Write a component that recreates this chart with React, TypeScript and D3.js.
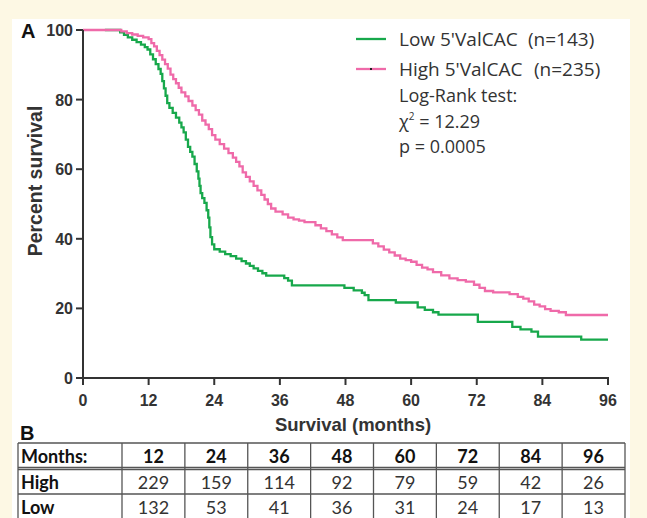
import React from "react";
import * as d3 from "d3";

// Kaplan-Meier steps: [month, percent survival]
const highSteps: [number, number][] = [
  [0, 100], [7, 99.6], [8, 99.1], [9, 98.7], [10, 98.3], [11, 97.9], [12, 97.4],
  [12.5, 96.2], [13, 95.3], [13.5, 94.0], [14, 92.8], [14.5, 91.5], [15, 90.2],
  [15.5, 88.9], [16, 87.2], [16.5, 85.9], [17, 84.7], [17.5, 83.4], [18, 82.1],
  [18.7, 80.9], [19.3, 79.6], [20, 78.3], [20.6, 77.0], [21.2, 75.7], [21.8, 74.0],
  [22.4, 72.8], [23, 71.5], [23.6, 69.8], [24.2, 68.5], [25, 67.2], [25.8, 65.9],
  [26.6, 64.6], [27.4, 63.3], [28, 62.1], [28.6, 60.8], [29.2, 59.1], [29.8, 57.8],
  [30.5, 56.5], [31.2, 55.2], [31.9, 53.9], [32.6, 52.6], [33.2, 51.3], [33.8, 50.0],
  [34.4, 48.7], [35.2, 47.8], [36.5, 47.0], [37.5, 46.1], [38.5, 45.6], [39.5, 45.2],
  [40.5, 44.8], [42.5, 43.9], [43.5, 43.0], [44.5, 42.2], [45.5, 41.3], [46.5, 40.4],
  [47.5, 39.6], [53, 38.7], [54, 37.8], [55, 36.9], [56, 36.1], [57, 35.2], [58, 34.3],
  [59, 33.9], [60, 33.4], [61, 32.5], [62, 31.7], [63, 31.2], [64, 30.4], [65.5, 29.5],
  [67, 28.6], [68.5, 28.1], [70, 27.7], [71.5, 26.8], [72.5, 25.9], [73.5, 25.0],
  [75, 24.6], [78, 24.1], [79.5, 23.3], [80.5, 22.8], [81.5, 22.0], [82.5, 21.1],
  [83.5, 20.6], [84.5, 19.8], [85.5, 19.3], [87, 18.9], [88.3, 18.1], [96, 18.1],
];

const lowSteps: [number, number][] = [
  [4, 100], [6.8, 99.3], [7.5, 98.6], [8.2, 97.9], [9, 97.2], [9.8, 96.5], [10.6, 95.8],
  [11.3, 95.1], [11.8, 94.4], [12.3, 93.0], [12.8, 91.6], [13.3, 90.2], [13.8, 88.8],
  [14.2, 87.4], [14.5, 85.3], [14.8, 83.2], [15.1, 81.1], [15.4, 79.0], [15.8, 77.6],
  [16.4, 76.2], [17.0, 74.8], [17.6, 73.4], [18.0, 72.0], [18.4, 70.6], [18.8, 68.5],
  [19.2, 66.4], [19.6, 65.0], [20.0, 63.6], [20.4, 61.5], [20.8, 59.4], [21.1, 57.3],
  [21.3, 55.2], [21.5, 53.1], [21.8, 51.7], [22.2, 50.3], [22.6, 48.2], [22.9, 46.1],
  [23.1, 43.3], [23.3, 40.5], [23.6, 38.4], [24.0, 37.0], [25, 36.3], [26, 35.6],
  [27, 35.0], [28, 34.3], [29, 33.6], [29.8, 32.9], [30.5, 32.2], [31.2, 31.5],
  [32, 30.8], [32.8, 30.1], [33.5, 29.4], [36.8, 28.7], [37.5, 28.0], [38.2, 26.6],
  [47.8, 25.9], [49.5, 25.2], [51, 24.5], [51.5, 23.8], [52.2, 22.4], [57.2, 21.7],
  [61.2, 20.3], [62.5, 19.6], [64, 18.9], [65, 18.2], [72.2, 16.1], [78.5, 14.7],
  [80, 14.0], [82, 13.3], [83.2, 11.9], [91.1, 11.0], [96, 11.0],
];

const xTicks = [0, 12, 24, 36, 48, 60, 72, 84, 96];
const yTicks = [0, 20, 40, 60, 80, 100];

const tableMonths = [12, 24, 36, 48, 60, 72, 84, 96];
const atRiskHigh = [229, 159, 114, 92, 79, 59, 42, 26];
const atRiskLow = [132, 53, 41, 36, 31, 24, 17, 13];

const GREEN = "#17a84b";
const PINK = "#ef6aa9";
const AXIS = "#333";

export default function App() {
  const width = 647;
  const height = 518;

  const x = d3.scaleLinear().domain([0, 96]).range([83, 608]);
  const y = d3.scaleLinear().domain([0, 100]).range([378, 30]);

  const line = d3
    .line<[number, number]>()
    .x((d) => x(d[0]))
    .y((d) => y(d[1]))
    .curve(d3.curveStepAfter);

  // table geometry
  const tLeft = 18;
  const tRight = 625;
  const firstCol = 122;
  const colW = (tRight - firstCol) / tableMonths.length;
  const rowTops = [443, 469, 494];
  const tableFont = "Lato, 'Open Sans', sans-serif";
  const axisFont = "'Liberation Sans', Arial, sans-serif";
  const legendFont = "'Open Sans', 'Liberation Sans', sans-serif";

  return (
    <svg
      width={width}
      height={height}
      style={{ position: "absolute", left: 0, top: 0, display: "block" }}
    >
      <rect x={0} y={0} width={width} height={height} fill="#fdf8e4" />
      <rect x={12} y={19} width={618} height={height - 19} fill="#ffffff" />

      {/* curves */}
      <path d={line(lowSteps) || ""} fill="none" stroke={GREEN} strokeWidth={2.3} />
      <path d={line(highSteps) || ""} fill="none" stroke={PINK} strokeWidth={2.3} />

      {/* axes */}
      <g stroke={AXIS} strokeWidth={2} fill="none">
        <line x1={x(0)} x2={x(0)} y1={y(100)} y2={y(0) + 1} />
        <line x1={x(0) - 1} x2={x(96) + 1} y1={y(0)} y2={y(0)} />
        {yTicks.map((t) => (
          <line key={"yt" + t} x1={x(0) - 7} x2={x(0)} y1={y(t)} y2={y(t)} />
        ))}
        {xTicks.map((t) => (
          <line key={"xt" + t} x1={x(t)} x2={x(t)} y1={y(0)} y2={y(0) + 7} />
        ))}
      </g>
      <g fill={AXIS} fontFamily={axisFont} fontWeight="bold" fontSize={16}>
        {yTicks.map((t) => (
          <text key={"yl" + t} x={x(0) - 10} y={y(t) + 6} textAnchor="end">
            {t}
          </text>
        ))}
        {xTicks.map((t) => (
          <text key={"xl" + t} x={x(t)} y={406} textAnchor="middle">
            {t}
          </text>
        ))}
      </g>
      <text
        transform="translate(42,181) rotate(-90)"
        textAnchor="middle"
        fontFamily={axisFont}
        fontWeight="bold"
        fontSize={19.5}
        fill={AXIS}
      >
        Percent survival
      </text>
      <text
        x={353}
        y={431}
        textAnchor="middle"
        fontFamily={axisFont}
        fontWeight="bold"
        fontSize={18.5}
        fill={AXIS}
      >
        Survival (months)
      </text>
      <text x={21} y={38} fontFamily={axisFont} fontWeight="bold" fontSize={20} fill="#111">
        A
      </text>
      <text x={20} y={440} fontFamily={axisFont} fontWeight="bold" fontSize={20} fill="#111">
        B
      </text>

      {/* legend */}
      <g fontFamily={legendFont} fontSize={19} fill="#333">
        <line x1={356} x2={386} y1={39} y2={39} stroke={GREEN} strokeWidth={2.3} />
        <text x={399} y={46}>Low 5'ValCAC</text>
        <text x={528} y={46}>(n=143)</text>
        <line x1={356} x2={386} y1={69} y2={69} stroke={PINK} strokeWidth={2.3} />
        <rect x={370} y={68} width={2} height={2} fill="#222" />
        <text x={399} y={76}>High 5'ValCAC</text>
        <text x={534} y={76}>(n=235)</text>
        <g fontSize={18}>
          <text x={399} y={102}>Log-Rank test:</text>
          <text x={399} y={128}>
            χ<tspan fontSize={10} dy={-8}>2</tspan>
            <tspan dy={8}> = 12.29</tspan>
          </text>
          <text x={399} y={153}>p = 0.0005</text>
        </g>
      </g>

      {/* number at risk table */}
      <g fontFamily={tableFont} fontSize={18} fill="#111">
        <text x={tLeft + 3} y={rowTops[0] + 20} fontWeight="bold">Months:</text>
        <text x={tLeft + 3} y={rowTops[1] + 20} fontWeight="bold">High</text>
        <text x={tLeft + 3} y={rowTops[2] + 20} fontWeight="bold">Low</text>
        {tableMonths.map((m, i) => (
          <g key={"col" + m}>
            <text
              x={firstCol + colW * (i + 0.5)}
              y={rowTops[0] + 20}
              textAnchor="middle"
              fontWeight="bold"
            >
              {m}
            </text>
            <text x={firstCol + colW * (i + 0.5)} y={rowTops[1] + 20} textAnchor="middle" fill="#333">
              {atRiskHigh[i]}
            </text>
            <text x={firstCol + colW * (i + 0.5)} y={rowTops[2] + 20} textAnchor="middle" fill="#333">
              {atRiskLow[i]}
            </text>
          </g>
        ))}
      </g>
      <g stroke="#555" strokeWidth={1.3}>
        <line x1={tLeft} x2={tRight} y1={rowTops[0]} y2={rowTops[0]} />
        <line x1={tLeft} x2={tRight} y1={rowTops[1] - 1.5} y2={rowTops[1] - 1.5} />
        <line x1={tLeft} x2={tRight} y1={rowTops[1] + 0.5} y2={rowTops[1] + 0.5} />
        <line x1={tLeft} x2={tRight} y1={rowTops[2]} y2={rowTops[2]} />
        <line x1={tLeft} x2={tLeft} y1={rowTops[0]} y2={height} />
        {tableMonths.map((m, i) => (
          <line
            key={"v" + m}
            x1={firstCol + colW * i}
            x2={firstCol + colW * i}
            y1={rowTops[0]}
            y2={height}
          />
        ))}
        <line x1={tRight} x2={tRight} y1={rowTops[0]} y2={height} />
      </g>
    </svg>
  );
}
